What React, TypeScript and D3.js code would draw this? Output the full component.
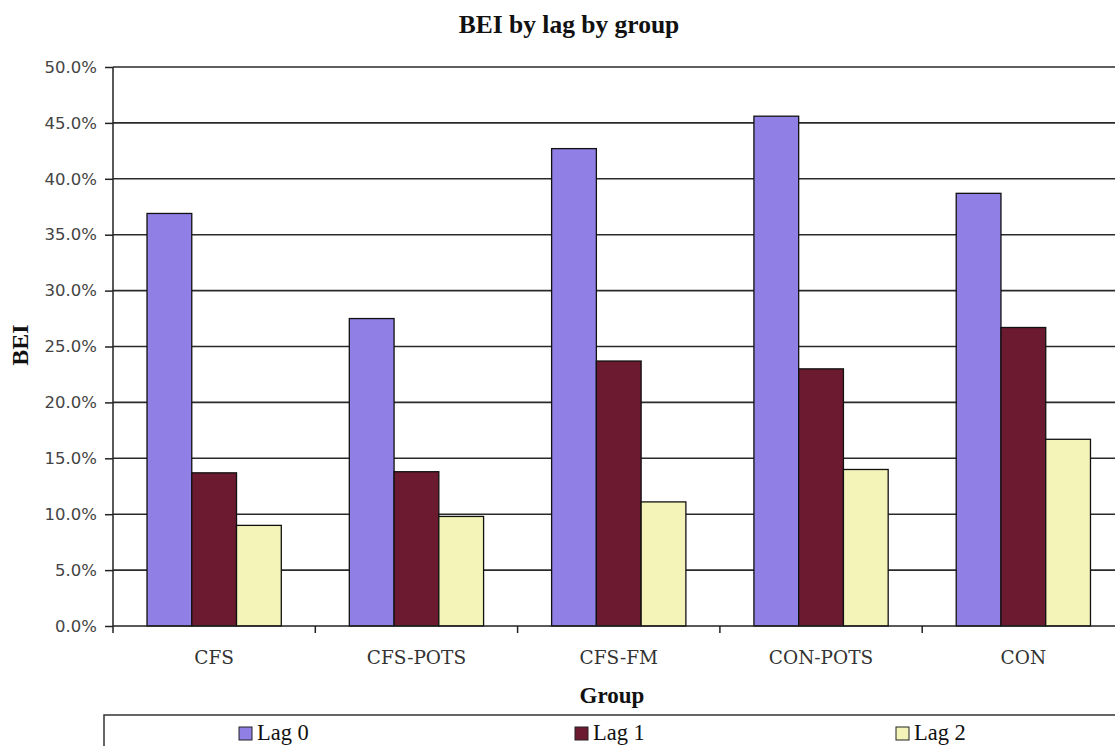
import { useEffect, useRef } from 'react';
import * as d3 from 'd3';

const GROUPS = ['CFS', 'CFS-POTS', 'CFS-FM', 'CON-POTS', 'CON'];
const LAGS = ['Lag 0', 'Lag 1', 'Lag 2'];
const LAG0 = [0.369, 0.275, 0.427, 0.456, 0.387];
const LAG1 = [0.137, 0.138, 0.237, 0.230, 0.267];
const LAG2 = [0.090, 0.098, 0.111, 0.140, 0.167];
const Y_TICKS = [0, 0.05, 0.1, 0.15, 0.2, 0.25, 0.3, 0.35, 0.4, 0.45, 0.5];
const COLORS = ['#9080e6', '#6c1a30', '#f4f4b8'];

const W = 1115;
const H = 746;

export default function App() {
  const svgRef = useRef<SVGSVGElement | null>(null);

  useEffect(() => {
    document.body.style.margin = '0';
    if (!svgRef.current) return;
    const svg = d3.select(svgRef.current);
    svg.selectAll('*').remove();

    const left = 113, right = 1124.5, top = 67, bottom = 626;
    const series = [LAG0, LAG1, LAG2];
    const rows = GROUPS.map((g, i) => ({ group: g, values: series.map((s, j) => ({ lag: LAGS[j], v: s[i], c: COLORS[j] })) }));

    const x0 = d3.scaleBand<string>().domain(GROUPS).range([left, right]).padding(0);
    const x1 = d3.scaleBand<string>().domain(LAGS).range([0, x0.bandwidth()]).paddingInner(0).paddingOuter(0.76);
    const y = d3.scaleLinear().domain([0, 0.5]).range([bottom, top]);

    svg.append('rect').attr('width', W).attr('height', H).attr('fill', '#fff');

    // title
    svg.append('text').attr('x', 569).attr('y', 33).attr('text-anchor', 'middle')
      .attr('font-family', 'Liberation Serif').attr('font-weight', 'bold').attr('font-size', 25.5)
      .attr('fill', '#111').text('BEI by lag by group');

    // grid
    svg.append('g').selectAll('line').data(Y_TICKS.filter(t => t > 0)).enter().append('line')
      .attr('x1', left).attr('x2', right).attr('y1', d => y(d)).attr('y2', d => y(d))
      .attr('stroke', '#2a2a2a').attr('stroke-width', 1.6);

    // y axis
    const ya = svg.append('g').attr('transform', `translate(${left},0)`)
      .call(d3.axisLeft(y).tickValues(Y_TICKS).tickSize(8).tickPadding(8).tickFormat(d3.format('.1%')));
    ya.select('.domain').remove();
    ya.selectAll('.tick line').attr('stroke', '#222').attr('stroke-width', 1.5);
    ya.selectAll('text').attr('font-family', 'DejaVu Sans').attr('font-size', 16.5).attr('fill', '#444');
    svg.append('line').attr('x1', left).attr('x2', left).attr('y1', top).attr('y2', bottom + 7)
      .attr('stroke', '#222').attr('stroke-width', 1.5);

    // bars
    const g = svg.append('g').selectAll('g').data(rows).enter().append('g')
      .attr('transform', d => `translate(${x0(d.group)},0)`);
    g.selectAll('rect').data(d => d.values).enter().append('rect')
      .attr('x', d => x1(d.lag)!).attr('width', x1.bandwidth())
      .attr('y', d => y(d.v)).attr('height', d => bottom - y(d.v))
      .attr('fill', d => d.c).attr('stroke', '#111').attr('stroke-width', 1.3);

    // x axis
    svg.append('line').attr('x1', left).attr('x2', right).attr('y1', bottom).attr('y2', bottom)
      .attr('stroke', '#222').attr('stroke-width', 1.5);
    svg.append('g').selectAll('line').data(GROUPS.slice(1)).enter().append('line')
      .attr('x1', d => x0(d)!).attr('x2', d => x0(d)!).attr('y1', bottom).attr('y2', bottom + 7)
      .attr('stroke', '#222').attr('stroke-width', 1.5);
    svg.append('g').selectAll('text').data(GROUPS).enter().append('text')
      .attr('x', d => x0(d)! + x0.bandwidth() / 2).attr('y', 664).attr('text-anchor', 'middle')
      .attr('font-family', 'DejaVu Serif').attr('font-size', 18.5).attr('fill', '#333').text(d => d);

    // axis titles
    svg.append('text').attr('x', 612).attr('y', 703).attr('text-anchor', 'middle')
      .attr('font-family', 'Liberation Serif').attr('font-weight', 'bold').attr('font-size', 23)
      .attr('fill', '#111').text('Group');
    svg.append('text').attr('transform', 'translate(28,345) rotate(-90)').attr('text-anchor', 'middle')
      .attr('font-family', 'Liberation Serif').attr('font-weight', 'bold').attr('font-size', 24)
      .attr('fill', '#111').text('BEI');

    // legend
    svg.append('rect').attr('x', 104).attr('y', 715).attr('width', 1030).attr('height', 60)
      .attr('fill', 'none').attr('stroke', '#333').attr('stroke-width', 1.5);
    const legX = [239, 575, 896];
    const leg = svg.append('g').selectAll('g').data(LAGS).enter().append('g')
      .attr('transform', (_, i) => `translate(${legX[i]},727)`);
    leg.append('rect').attr('width', 13).attr('height', 13)
      .attr('fill', (_, i) => COLORS[i]).attr('stroke', '#222').attr('stroke-width', 1);
    leg.append('text').attr('x', 18).attr('y', 13)
      .attr('font-family', 'Liberation Serif').attr('font-size', 22.5).attr('fill', '#111').text(d => d);
  }, []);

  return <svg ref={svgRef} width={W} height={H} style={{ display: 'block' }} />;
}
